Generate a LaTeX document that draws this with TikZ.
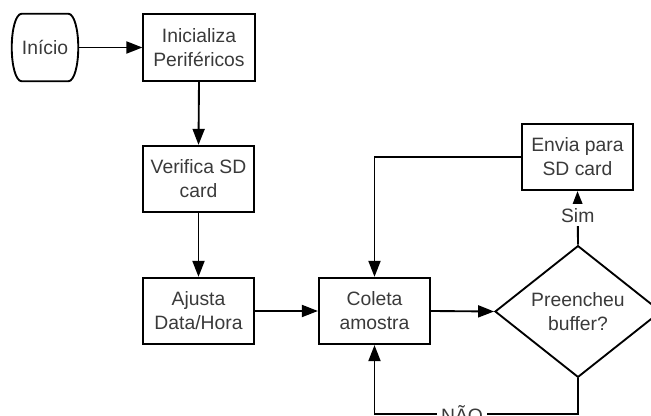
\documentclass[tikz,border=0pt]{standalone}
\usepackage{fontspec}
\setmainfont{Liberation Sans}
\usetikzlibrary{arrows.meta,shapes.geometric,calc}
\definecolor{txt}{HTML}{3A3A3A}
\begin{document}
\begin{tikzpicture}[x=0.75pt,y=-0.75pt,
  every node/.style={font=\fontsize{14.5}{18}\selectfont, text=txt, align=center},
  stepbox/.style={draw=black, line width=1.4pt, minimum width=83.5pt, minimum height=49.8pt, inner sep=0pt},
  flow/.style={line width=1.4pt, -{Triangle[length=12pt,width=9pt]}},
  tag/.style={fill=white, inner sep=3pt}]
  \useasboundingbox (0,0) rectangle (651,416);

  % start terminal
  \node[minimum width=49.5pt, minimum height=50.25pt, inner sep=0pt] (inicio) at (45,47.5) {Início};
  \draw[line width=1.4pt]
    ($(inicio.north west)+(10,0)$) -- ($(inicio.north east)+(-10,0)$)
    .. controls ($(inicio.north east)+(-4,0)$) and ($(inicio.east)+(0,-18)$) .. (inicio.east)
    .. controls ($(inicio.east)+(0,18)$) and ($(inicio.south east)+(-4,0)$) .. ($(inicio.south east)+(-10,0)$)
    -- ($(inicio.south west)+(10,0)$)
    .. controls ($(inicio.south west)+(4,0)$) and ($(inicio.west)+(0,18)$) .. (inicio.west)
    .. controls ($(inicio.west)+(0,-18)$) and ($(inicio.north west)+(4,0)$) .. ($(inicio.north west)+(10,0)$) -- cycle;

  % process boxes
  \node[stepbox] (ini) at (199,47.5) {Inicializa\\Periféricos};
  \node[stepbox] (ver) at (198.5,179) {Verifica SD\\card};
  \node[stepbox] (aju) at (198.5,311) {Ajusta\\Data/Hora};
  \node[stepbox] (col) at (374.5,311) {Coleta\\amostra};
  \node[stepbox] (env) at (577.5,157) {Envia para\\SD card};

  % decision
  \node[draw=black, line width=1.4pt, diamond, inner sep=0pt,
        minimum width=124.5pt, minimum height=89.25pt] (dia) at (578,311.5) {Preencheu\\buffer?};

  \coordinate (loop) at (374.5,414);

  % connectors
  \draw[flow] (inicio.east) -- (ini.west);
  \draw[flow] (ini.south) -- (ver.north);
  \draw[flow] (ver.south) -- (aju.north);
  \draw[flow] (aju.east) -- (col.west);
  \draw[flow] (col.east) -- (dia.west);
  \draw[flow] (dia.north) -- node[tag, pos=0.55] {Sim} (env.south);
  \draw[flow] (env.west) -| (col.north);
  \draw[flow] (dia.south) |- node[tag, pos=0.785] {NÃO} (loop) -- (col.south);
\end{tikzpicture}
\end{document}
